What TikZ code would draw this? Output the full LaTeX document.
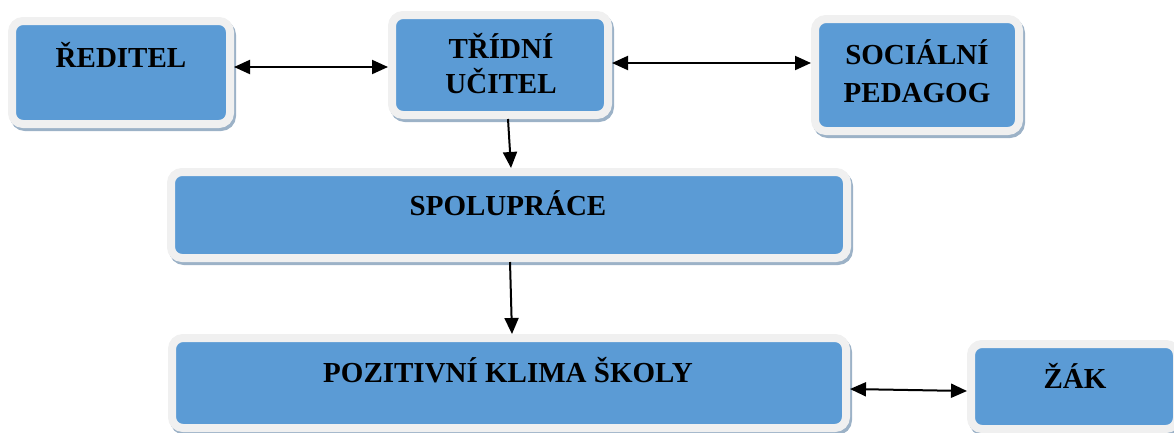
\documentclass[tikz,border=0pt]{standalone}
\usepackage{fontspec}
\setmainfont{Liberation Serif}
\usetikzlibrary{fit,arrows.meta}
\definecolor{boxblue}{HTML}{5B9BD5}
\definecolor{rimgray}{HTML}{F0F0F0}
\definecolor{shadowblue}{HTML}{9CB2C7}
\begin{document}
\begin{tikzpicture}[x=1pt,y=-1pt,
  panel/.style={fit={#1}, inner sep=0pt, rounded corners=11pt,
    fill=boxblue, draw=rimgray, line width=8pt,
    preaction={draw=shadowblue, fill=shadowblue, line width=8pt,
      transform canvas={xshift=2pt,yshift=-3pt}}},
  boxtext/.style={anchor=base, inner sep=0pt,
    font=\fontsize{29}{34}\selectfont\bfseries},
  tip/.tip={Triangle[length=16pt,width=14pt]},
  link/.style={line width=2pt, tip-tip},
  flow/.style={line width=2pt, -tip}]
\useasboundingbox (0,0) rectangle (1174,432);

% boxes
\node[panel={(12,21) (230,124)}] (red) {};
\node[panel={(392,15) (608,115)}] (tu) {};
\node[panel={(815,19) (1019,131)}] (soc) {};
\node[panel={(171,172) (847,258)}] (spol) {};
\node[panel={(172,338) (846,428)}] (poz) {};
\node[panel={(971,344) (1177,429)}] (zak) {};

% captions
\node[boxtext] (red-t) at (121,67) {ŘEDITEL};
\node[boxtext] (tu-t1) at (501,58) {TŘÍDNÍ};
\node[boxtext] (tu-t2) at (501,93) {UČITEL};
\node[boxtext] (soc-t1) at (917,64) {SOCIÁLNÍ};
\node[boxtext] (soc-t2) at (917,102) {PEDAGOG};
\node[boxtext] (spol-t) at (508,215) {SPOLUPRÁCE};
\node[boxtext] (poz-t) at (508,382) {POZITIVNÍ KLIMA ŠKOLY};
\node[boxtext] (zak-t) at (1075,388) {ŽÁK};

% connectors
\draw[link] ([yshift=5.5pt]red.east) -- ([yshift=-2pt]tu.west);
\draw[link] ([yshift=2pt]tu.east) -- ([yshift=12pt]soc.west);
\draw[flow] ([xshift=8pt]tu.south) -- ([xshift=2pt]spol.north);
\draw[flow] ([xshift=1pt]spol.south) -- ([xshift=3pt]poz.north);
\draw[link] ([yshift=-6pt]poz.east) -- ([yshift=-4.5pt]zak.west);
\end{tikzpicture}
\end{document}
